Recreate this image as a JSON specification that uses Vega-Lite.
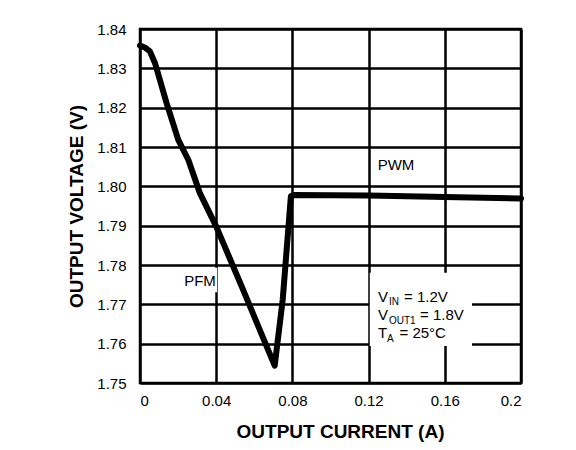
{
  "$schema": "https://vega.github.io/schema/vega-lite/v6.json",
  "width": 381,
  "height": 354,
  "autosize": {"type": "none"},
  "padding": {"left": 140, "top": 29, "right": 55, "bottom": 67},
  "background": "white",
  "config": {
    "font": "Liberation Sans",
    "view": {"stroke": "black", "strokeWidth": 2.5}
  },
  "datasets": {
    "curve": [
      {"x": 0.0, "y": 1.8358},
      {"x": 0.0025, "y": 1.8353},
      {"x": 0.0052, "y": 1.8343},
      {"x": 0.0079, "y": 1.8313},
      {"x": 0.014, "y": 1.8211},
      {"x": 0.0201, "y": 1.8118},
      {"x": 0.0254, "y": 1.8067},
      {"x": 0.0315, "y": 1.7982},
      {"x": 0.0401, "y": 1.7897},
      {"x": 0.0542, "y": 1.7736},
      {"x": 0.0707, "y": 1.7544},
      {"x": 0.0749, "y": 1.7711},
      {"x": 0.0792, "y": 1.7975},
      {"x": 0.0805, "y": 1.7978},
      {"x": 0.12, "y": 1.7977},
      {"x": 0.16, "y": 1.7973},
      {"x": 0.2, "y": 1.7969}
    ],
    "boxes": [
      {"x": 0.021, "x2": 0.0405, "y": 1.7731, "y2": 1.7793},
      {"x": 0.1206, "x2": 0.1743, "y": 1.7594, "y2": 1.778}
    ],
    "labels": [
      {"x": 0.1344, "y": 1.8054, "t": "PWM"},
      {"x": 0.0315, "y": 1.7759, "t": "PFM"}
    ],
    "cond": [
      {"x": 0.1249, "y": 1.7707, "t": "V"},
      {"x": 0.1386, "y": 1.7707, "t": "= 1.2V"},
      {"x": 0.1249, "y": 1.766, "t": "V"},
      {"x": 0.147, "y": 1.766, "t": "= 1.8V"},
      {"x": 0.1249, "y": 1.7614, "t": "T"},
      {"x": 0.1362, "y": 1.7614, "t": "= 25°C"}
    ],
    "subs": [
      {"x": 0.1307, "y": 1.7698, "t": "IN"},
      {"x": 0.1307, "y": 1.7651, "t": "OUT1"},
      {"x": 0.1297, "y": 1.7604, "t": "A"}
    ]
  },
  "encoding": {
    "x": {"field": "x", "type": "quantitative",
          "scale": {"domain": [0, 0.2], "nice": false, "zero": false},
          "axis": {"values": [0, 0.04, 0.08, 0.12, 0.16, 0.2], "format": "~g",
                   "grid": true, "gridColor": "black", "gridWidth": 2.5, "gridOpacity": 1,
                   "domain": false, "ticks": false, "labelOverlap": false, "labelBound": false,
                   "labelFont": "Liberation Sans", "labelFontSize": 15, "labelColor": "black", "labelPadding": 10,
                   "title": "OUTPUT CURRENT (A)", "titleFont": "Liberation Sans", "titleFontSize": 19, "titleFontWeight": "bold", "titleColor": "black",
                   "titleX": 200, "titleY": 54, "titleBaseline": "alphabetic"}},
    "y": {"field": "y", "type": "quantitative",
          "scale": {"domain": [1.75, 1.84], "nice": false, "zero": false},
          "axis": {"values": [1.75, 1.76, 1.77, 1.78, 1.79, 1.8, 1.81, 1.82, 1.83, 1.84], "format": ".2f",
                   "grid": true, "gridColor": "black", "gridWidth": 2.5, "gridOpacity": 1,
                   "domain": false, "ticks": false, "labelOverlap": false, "labelBound": false, "labelFlush": false,
                   "labelFont": "Liberation Sans", "labelFontSize": 15, "labelColor": "black", "labelPadding": 14,
                   "title": "OUTPUT VOLTAGE (V)", "titleFont": "Liberation Sans", "titleFontSize": 19, "titleFontWeight": "bold", "titleColor": "black",
                   "titleX": -58, "titleY": 177, "titleBaseline": "alphabetic"}}
  },
  "layer": [
    {
      "data": {"name": "boxes"},
      "mark": {"type": "rect", "fill": "white", "stroke": null},
      "encoding": {
        "x2": {"field": "x2"},
        "y2": {"field": "y2"}
      }
    },
    {
      "data": {"name": "curve"},
      "mark": {"type": "line", "color": "black", "strokeWidth": 6, "strokeJoin": "round", "strokeCap": "round"},
      "encoding": {}
    },
    {
      "data": {"name": "labels"},
      "mark": {"type": "text", "font": "Liberation Sans", "fontSize": 15, "color": "black", "align": "center", "baseline": "middle"},
      "encoding": {"text": {"field": "t"}}
    },
    {
      "data": {"name": "cond"},
      "mark": {"type": "text", "font": "Liberation Sans", "fontSize": 15, "color": "black", "align": "left", "baseline": "alphabetic"},
      "encoding": {"text": {"field": "t"}}
    },
    {
      "data": {"name": "subs"},
      "mark": {"type": "text", "font": "Liberation Sans", "fontSize": 10, "color": "black", "align": "left", "baseline": "alphabetic"},
      "encoding": {"text": {"field": "t"}}
    }
  ]
}
